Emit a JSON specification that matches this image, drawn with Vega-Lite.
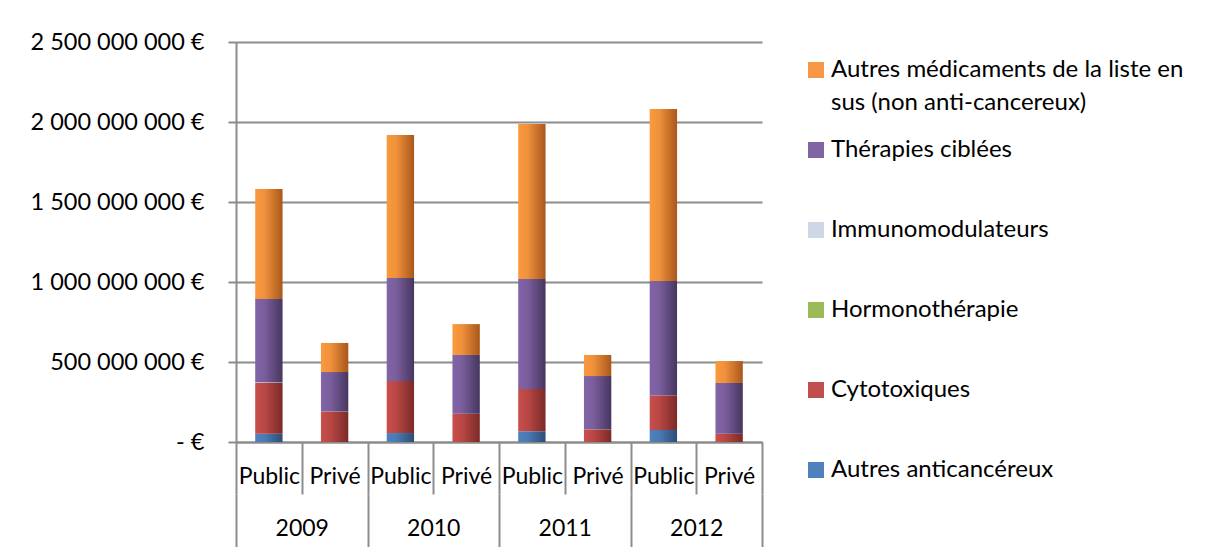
{
  "$schema": "https://vega.github.io/schema/vega-lite/v6.json",
  "width": 526,
  "height": 400,
  "autosize": {"type": "none"},
  "padding": {"left": 236, "top": 42, "right": 444, "bottom": 105},
  "background": "white",
  "config": {
    "view": {"stroke": null},
    "font": "Lato",
    "style": {"guide-label": {"lineHeight": 33}}
  },
  "data": {
    "values": [
      {"annee": "2009", "secteur": "Public", "classe": "Autres anticancéreux", "montant": 52000000},
      {"annee": "2009", "secteur": "Public", "classe": "Cytotoxiques", "montant": 318000000},
      {"annee": "2009", "secteur": "Public", "classe": "Immunomodulateurs", "montant": 4000000},
      {"annee": "2009", "secteur": "Public", "classe": "Thérapies ciblées", "montant": 520000000},
      {"annee": "2009", "secteur": "Public", "classe": "Autres médicaments de la liste en sus (non anti-cancereux)", "montant": 687000000},
      {"annee": "2009", "secteur": "Privé", "classe": "Cytotoxiques", "montant": 190000000},
      {"annee": "2009", "secteur": "Privé", "classe": "Thérapies ciblées", "montant": 247000000},
      {"annee": "2009", "secteur": "Privé", "classe": "Autres médicaments de la liste en sus (non anti-cancereux)", "montant": 182000000},
      {"annee": "2010", "secteur": "Public", "classe": "Autres anticancéreux", "montant": 56000000},
      {"annee": "2010", "secteur": "Public", "classe": "Cytotoxiques", "montant": 325000000},
      {"annee": "2010", "secteur": "Public", "classe": "Thérapies ciblées", "montant": 644000000},
      {"annee": "2010", "secteur": "Public", "classe": "Autres médicaments de la liste en sus (non anti-cancereux)", "montant": 894000000},
      {"annee": "2010", "secteur": "Privé", "classe": "Cytotoxiques", "montant": 177000000},
      {"annee": "2010", "secteur": "Privé", "classe": "Thérapies ciblées", "montant": 367000000},
      {"annee": "2010", "secteur": "Privé", "classe": "Autres médicaments de la liste en sus (non anti-cancereux)", "montant": 193000000},
      {"annee": "2011", "secteur": "Public", "classe": "Autres anticancéreux", "montant": 67000000},
      {"annee": "2011", "secteur": "Public", "classe": "Cytotoxiques", "montant": 264000000},
      {"annee": "2011", "secteur": "Public", "classe": "Thérapies ciblées", "montant": 688000000},
      {"annee": "2011", "secteur": "Public", "classe": "Autres médicaments de la liste en sus (non anti-cancereux)", "montant": 968000000},
      {"annee": "2011", "secteur": "Privé", "classe": "Cytotoxiques", "montant": 79000000},
      {"annee": "2011", "secteur": "Privé", "classe": "Thérapies ciblées", "montant": 333000000},
      {"annee": "2011", "secteur": "Privé", "classe": "Autres médicaments de la liste en sus (non anti-cancereux)", "montant": 132000000},
      {"annee": "2012", "secteur": "Public", "classe": "Autres anticancéreux", "montant": 75000000},
      {"annee": "2012", "secteur": "Public", "classe": "Cytotoxiques", "montant": 215000000},
      {"annee": "2012", "secteur": "Public", "classe": "Thérapies ciblées", "montant": 716000000},
      {"annee": "2012", "secteur": "Public", "classe": "Autres médicaments de la liste en sus (non anti-cancereux)", "montant": 1075000000},
      {"annee": "2012", "secteur": "Privé", "classe": "Cytotoxiques", "montant": 52000000},
      {"annee": "2012", "secteur": "Privé", "classe": "Thérapies ciblées", "montant": 317000000},
      {"annee": "2012", "secteur": "Privé", "classe": "Autres médicaments de la liste en sus (non anti-cancereux)", "montant": 137000000}
    ]
  },
  "transform": [
    {"calculate": "datum.annee + ' ' + datum.secteur", "as": "cat"},
    {"calculate": "indexof(['Autres anticancéreux','Cytotoxiques','Hormonothérapie','Immunomodulateurs','Thérapies ciblées','Autres médicaments de la liste en sus (non anti-cancereux)'], datum.classe)", "as": "k"}
  ],
  "layer": [
    {
      "mark": {"type": "bar", "width": {"band": 0.416}, "strokeWidth": 0},
      "encoding": {
        "x": {
          "field": "cat", "type": "nominal", "sort": null,
          "scale": {"paddingInner": 0, "paddingOuter": 0},
          "axis": {
            "title": null, "labelExpr": "split(datum.label, ' ')[1]",
            "tickBand": "extent", "tickSize": 52, "tickColor": "#8c8c8c", "tickWidth": 2,
            "domainColor": "#8c8c8c", "domainWidth": 2,
            "labelFont": "Lato", "labelFontSize": 23, "labelColor": "black",
            "labelPadding": -29, "labelAngle": 0, "labelOverlap": false, "labelFlush": false,
            "grid": false
          }
        },
        "y": {
          "field": "montant", "type": "quantitative",
          "scale": {"domain": [0, 2500000000], "nice": false},
          "axis": {
            "title": null,
            "values": [0, 500000000, 1000000000, 1500000000, 2000000000, 2500000000],
            "labelExpr": "datum.value == 0 ? '- €' : replace(format(datum.value, ','), regexp(',', 'g'), ' ') + ' €'",
            "tickSize": 8, "tickColor": "#8c8c8c", "tickWidth": 2,
            "domainColor": "#8c8c8c", "domainWidth": 2,
            "gridColor": "#8c8c8c", "gridWidth": 2,
            "labelFont": "Lato", "labelFontSize": 23.5, "labelColor": "black", "labelPadding": 24
          }
        },
        "fill": {
          "field": "classe", "type": "nominal",
          "scale": {
            "domain": ["Autres médicaments de la liste en sus (non anti-cancereux)", "Thérapies ciblées", "Immunomodulateurs", "Hormonothérapie", "Cytotoxiques", "Autres anticancéreux"],
            "range": ["#F79646", "#8064A2", "#CCD8E6", "#9BBB59", "#C0504D", "#4F81BD"]
          },
          "legend": {
            "title": null, "orient": "none", "legendX": 568, "legendY": 16,
            "symbolType": "square", "symbolSize": 256, "symbolStrokeWidth": 0,
            "labelFont": "Lato", "labelFontSize": 24, "labelColor": "black", "labelLimit": 500, "labelOffset": 3,
            "rowPadding": 23, "gridAlign": "all",
            "labelExpr": "datum.label == 'Autres médicaments de la liste en sus (non anti-cancereux)' ? ['Autres médicaments de la liste en', 'sus (non anti-cancereux)'] : datum.label"
          },
          "condition": [
            {"test": "datum.classe === 'Autres anticancéreux'", "value": {"gradient": "linear", "x1": 0, "y1": 0, "x2": 1, "y2": 0, "stops": [{"offset": 0, "color": "#4F81BD"}, {"offset": 0.35, "color": "#4A7AB3"}, {"offset": 1, "color": "#2C4D75"}]}},
            {"test": "datum.classe === 'Cytotoxiques'", "value": {"gradient": "linear", "x1": 0, "y1": 0, "x2": 1, "y2": 0, "stops": [{"offset": 0, "color": "#C84F4C"}, {"offset": 0.35, "color": "#B84744"}, {"offset": 1, "color": "#7B2A28"}]}},
            {"test": "datum.classe === 'Hormonothérapie'", "value": {"gradient": "linear", "x1": 0, "y1": 0, "x2": 1, "y2": 0, "stops": [{"offset": 0, "color": "#9BBB59"}, {"offset": 1, "color": "#5F7530"}]}},
            {"test": "datum.classe === 'Immunomodulateurs'", "value": {"gradient": "linear", "x1": 0, "y1": 0, "x2": 1, "y2": 0, "stops": [{"offset": 0, "color": "#DCE6F2"}, {"offset": 1, "color": "#8E9AAA"}]}},
            {"test": "datum.classe === 'Thérapies ciblées'", "value": {"gradient": "linear", "x1": 0, "y1": 0, "x2": 1, "y2": 0, "stops": [{"offset": 0, "color": "#8264A8"}, {"offset": 0.35, "color": "#7A5E9C"}, {"offset": 1, "color": "#46365F"}]}},
            {"test": "datum.classe === 'Autres médicaments de la liste en sus (non anti-cancereux)'", "value": {"gradient": "linear", "x1": 0, "y1": 0, "x2": 1, "y2": 0, "stops": [{"offset": 0, "color": "#FA9A3E"}, {"offset": 0.35, "color": "#EF913C"}, {"offset": 1, "color": "#A9571B"}]}}
          ]
        },
        "order": {"field": "k", "type": "quantitative"}
      }
    },
    {
      "mark": {"type": "rule", "strokeOpacity": 0},
      "encoding": {
        "x": {
          "field": "annee", "type": "nominal",
          "scale": {"paddingInner": 0, "paddingOuter": 0},
          "axis": {
            "title": null, "orient": "bottom", "offset": 52, "domain": false,
            "tickBand": "extent", "tickSize": 60, "tickColor": "#8c8c8c", "tickWidth": 2,
            "labelFont": "Lato", "labelFontSize": 23, "labelColor": "black",
            "labelPadding": -37, "labelAngle": 0, "labelOverlap": false, "grid": false
          }
        }
      }
    }
  ],
  "resolve": {"scale": {"x": "independent"}, "axis": {"x": "independent"}}
}
